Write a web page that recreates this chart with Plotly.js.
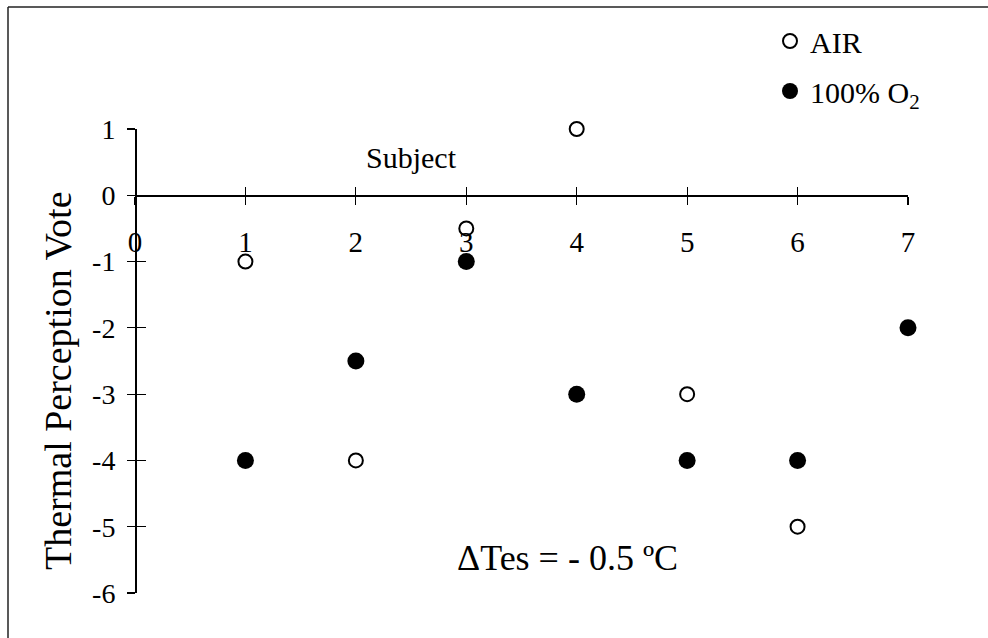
<!DOCTYPE html>
<html>
<head>
<meta charset="utf-8">
<script src="https://cdn.plot.ly/plotly-3.0.1.min.js"></script>
<style>
html,body{margin:0;padding:0;background:#fff;}
#chart{width:988px;height:638px;}
</style>
</head>
<body>
<div id="chart"></div>
<script>
const subjects = [1, 2, 3, 4, 5, 6, 7];
const airX = [1, 2, 3, 4, 5, 6];
const airVotes = [-1, -4, -0.5, 1, -3, -5];
const o2X = [1, 2, 3, 4, 5, 6, 7];
const o2Votes = [-4, -2.5, -1, -3, -4, -4, -2];
const xTicks = [0, 1, 2, 3, 4, 5, 6, 7];
const yTicks = [-6, -5, -4, -3, -2, -1, 0, 1];

const FONT = 'Liberation Serif, Times New Roman, serif';

const traces = [
  {
    x: airX, y: airVotes, type: 'scatter', mode: 'markers', name: 'AIR',
    legendgroup: 'a', cliponaxis: false,
    marker: {symbol: 'circle', size: 14, color: '#fff', line: {color: '#000', width: 2}}
  },
  {
    x: o2X, y: o2Votes, type: 'scatter', mode: 'markers', name: '100% O<sub>2</sub>',
    legendgroup: 'b', cliponaxis: false,
    marker: {symbol: 'circle', size: 17, color: '#000', line: {color: '#000', width: 0}}
  },
  {
    x: [null], y: [null], xaxis: 'x2', yaxis: 'y2', type: 'scatter', mode: 'markers',
    showlegend: false, hoverinfo: 'skip'
  }
];

const layout = {
  width: 988, height: 638,
  margin: {l: 135, r: 80, t: 129, b: 45},
  paper_bgcolor: '#fff', plot_bgcolor: 'rgba(0,0,0,0)',
  font: {family: FONT, color: '#000'},
  showlegend: true,
  legend: {
    x: (770 - 135) / 773, xanchor: 'left',
    y: (593 - 15) / 464, yanchor: 'top',
    font: {family: FONT, size: 30, color: '#000'},
    bgcolor: 'rgba(0,0,0,0)', tracegroupgap: 8, itemwidth: 30
  },
  xaxis: {
    range: [0, 7], anchor: 'free', position: 6 / 7,
    tickvals: xTicks, ticktext: xTicks.map(String),
    ticks: 'outside', ticklen: 8, tickwidth: 1.2, tickcolor: '#000',
    showline: true, linecolor: '#000', linewidth: 1.5,
    showgrid: false, zeroline: false,
    tickfont: {family: FONT, size: 29, color: '#000'},
    ticklabelstandoff: 12
  },
  xaxis2: {
    range: [0, 7], anchor: 'free', position: 6 / 7, overlaying: 'x',
    tickvals: xTicks, ticks: 'inside', ticklen: 8, tickwidth: 1.2, tickcolor: '#000',
    showticklabels: false, showline: false, showgrid: false, zeroline: false
  },
  yaxis: {
    range: [-6, 1], anchor: 'free', position: 0,
    tickvals: yTicks, ticktext: yTicks.map(String),
    ticks: 'outside', ticklen: 8, tickwidth: 1.2, tickcolor: '#000',
    showline: true, linecolor: '#000', linewidth: 1.5,
    showgrid: false, zeroline: false,
    tickfont: {family: FONT, size: 28, color: '#000'},
    ticklabelstandoff: 6
  },
  yaxis2: {
    range: [-6, 1], anchor: 'free', position: 0, overlaying: 'y', side: 'left',
    tickvals: yTicks, ticks: 'inside', ticklen: 10, tickwidth: 1.2, tickcolor: '#000',
    showticklabels: false, showline: false, showgrid: false, zeroline: false
  },
  annotations: [
    {text: 'Subject', xref: 'x', yref: 'y', x: 2.5, y: 0.57, showarrow: false,
     font: {family: FONT, size: 30, color: '#000'}},
    {text: 'ΔTes = - 0.5 ºC', xref: 'x', yref: 'y', x: 3.92, y: -5.47, showarrow: false,
     font: {family: FONT, size: 36, color: '#000'}},
    {text: 'Thermal Perception Vote', xref: 'paper', yref: 'paper',
     x: (58 - 135) / 773, y: (593 - 381) / 464, textangle: -90, showarrow: false,
     xanchor: 'center', yanchor: 'middle',
     font: {family: FONT, size: 38, color: '#000'}}
  ],
  shapes: [
    {type: 'line', xref: 'paper', yref: 'paper',
     x0: (8 - 135) / 773, x1: (988 - 135) / 773, y0: (593 - 7) / 464, y1: (593 - 7) / 464,
     line: {color: '#222', width: 1.5}},
    {type: 'line', xref: 'paper', yref: 'paper',
     x0: (8 - 135) / 773, x1: (8 - 135) / 773, y0: (593 - 7) / 464, y1: (593 - 638) / 464,
     line: {color: '#222', width: 1.5}}
  ]
};

Plotly.newPlot('chart', traces, layout, {displayModeBar: false, staticPlot: true});
</script>
</body>
</html>
